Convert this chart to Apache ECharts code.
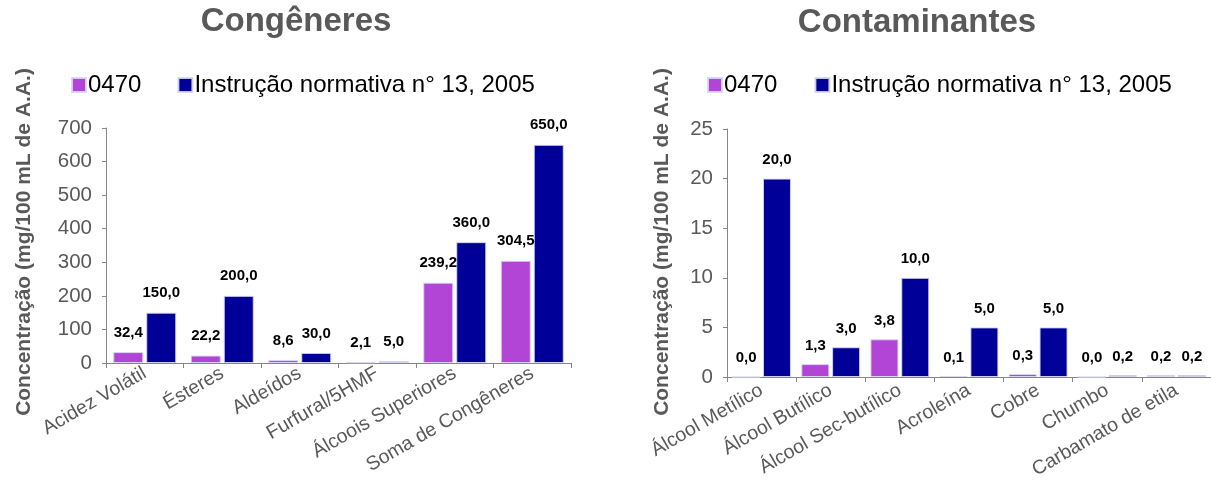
<!DOCTYPE html>
<html>
<head>
<meta charset="utf-8">
<script src="https://cdn.jsdelivr.net/npm/echarts@6/dist/echarts.min.js"></script>
<style>
  html, body { margin: 0; padding: 0; background: #fff; }
  #chart { width: 1211px; height: 488px; }
</style>
</head>
<body>
<div id="chart"></div>
<script>
// Congêneres panel
const congCategories = ['Acidez Volátil', 'Ésteres', 'Aldeídos', 'Furfural/5HMF', 'Álcoois Superiores', 'Soma de Congêneres'];
const congSample = [32.4, 22.2, 8.6, 2.1, 239.2, 304.5];
const congLimit = [150.0, 200.0, 30.0, 5.0, 360.0, 650.0];
const congTicks = [0, 100, 200, 300, 400, 500, 600, 700];

// Contaminantes panel
const contCategories = ['Álcool Metílico', 'Álcool Butílico', 'Álcool Sec-butílico', 'Acroleína', 'Cobre', 'Chumbo', 'Carbamato de etila'];
const contSample = [0.0, 1.3, 3.8, 0.1, 0.3, 0.0, 0.2];
const contLimit = [20.0, 3.0, 10.0, 5.0, 5.0, 0.2, 0.2];
const contTicks = [0, 5, 10, 15, 20, 25];

const seriesNames = ['0470', 'Instrução normativa n° 13, 2005'];
const panelTitles = ['Congêneres', 'Contaminantes'];
const yTitle = 'Concentração (mg/100 mL de A.A.)';

const FONT = '"Liberation Sans", Arial, sans-serif';
const NARROW = '"Liberation Sans Narrow", "Arial Narrow", "Liberation Sans", Arial, sans-serif';
const PURPLE = '#B245D6';
const NAVY = '#000099';
const GREY = '#595959';
const AXIS = '#868686';

const fmt = v => v.toFixed(1).replace('.', ',');

function valueLabel(dist) {
  return {
    show: true, position: 'top', distance: dist,
    formatter: p => fmt(p.value),
    fontFamily: NARROW, fontWeight: 'bold', fontSize: 15, color: '#000'
  };
}

function catAxis(idx, cats, margin) {
  return {
    type: 'category', gridIndex: idx, data: cats,
    axisLine: { lineStyle: { color: AXIS, width: 1 } },
    axisTick: { show: true, interval: 0, length: 5, lineStyle: { color: AXIS } },
    axisLabel: { interval: 0, rotate: 30, margin: margin, fontFamily: FONT, fontSize: 19.5, color: GREY }
  };
}

function valAxis(idx, ticks) {
  return {
    type: 'value', gridIndex: idx,
    min: ticks[0], max: ticks[ticks.length - 1], interval: ticks[1] - ticks[0],
    splitLine: { show: false },
    axisLine: { show: true, lineStyle: { color: AXIS, width: 1 } },
    axisTick: { show: true, length: 4, lineStyle: { color: AXIS } },
    axisLabel: { margin: 14, fontFamily: FONT, fontSize: 20.5, color: GREY }
  };
}

const barBorder = { borderColor: 'rgba(215,215,245,0.9)', borderWidth: 1 };

const option = {
  animation: false,
  backgroundColor: '#fff',
  textStyle: { fontFamily: FONT },
  grid: [
    { left: 106, top: 128, width: 465, height: 235 },
    { left: 727, top: 129, width: 486, height: 248 }
  ],
  legend: [
    {
      left: 66, top: 68, icon: 'rect', itemWidth: 14, itemHeight: 14, itemGap: 36,
      data: seriesNames,
      textStyle: { fontFamily: FONT, fontSize: 24, color: '#000', padding: [0, 0, 0, -3] }
    },
    {
      left: 702, top: 68, icon: 'rect', itemWidth: 14, itemHeight: 14, itemGap: 37,
      data: seriesNames,
      textStyle: { fontFamily: FONT, fontSize: 24, color: '#000', padding: [0, 0, 0, -3] }
    }
  ],
  xAxis: [catAxis(0, congCategories, 9), catAxis(1, contCategories, 12)],
  yAxis: [valAxis(0, congTicks), valAxis(1, contTicks)],
  series: [
    {
      name: seriesNames[0], type: 'bar', xAxisIndex: 0, yAxisIndex: 0,
      data: congSample, barWidth: 30, barGap: '10%',
      itemStyle: Object.assign({ color: PURPLE }, barBorder), label: valueLabel(12)
    },
    {
      name: seriesNames[1], type: 'bar', xAxisIndex: 0, yAxisIndex: 0,
      data: congLimit, barWidth: 30, barGap: '10%',
      itemStyle: Object.assign({ color: NAVY }, barBorder), label: valueLabel(12)
    },
    {
      name: seriesNames[0], type: 'bar', xAxisIndex: 1, yAxisIndex: 1,
      data: contSample, barWidth: 28, barGap: '10%',
      itemStyle: Object.assign({ color: PURPLE }, barBorder), label: valueLabel(11)
    },
    {
      name: seriesNames[1], type: 'bar', xAxisIndex: 1, yAxisIndex: 1,
      data: contLimit, barWidth: 28, barGap: '10%',
      itemStyle: Object.assign({ color: NAVY }, barBorder), label: valueLabel(11)
    }
  ],
  graphic: [
    {
      type: 'text', x: 296, y: 22,
      style: { text: panelTitles[0], fill: GREY, font: 'bold 33px ' + FONT, align: 'center', verticalAlign: 'middle' }
    },
    {
      type: 'text', x: 917, y: 23,
      style: { text: panelTitles[1], fill: GREY, font: 'bold 33px ' + FONT, align: 'center', verticalAlign: 'middle' }
    },
    {
      type: 'text', x: 24, y: 242, rotation: Math.PI / 2,
      style: { text: yTitle, fill: GREY, font: 'bold 21px ' + FONT, align: 'center', verticalAlign: 'middle' }
    },
    {
      type: 'text', x: 662, y: 242, rotation: Math.PI / 2,
      style: { text: yTitle, fill: GREY, font: 'bold 21px ' + FONT, align: 'center', verticalAlign: 'middle' }
    }
  ]
};

const chart = echarts.init(document.getElementById('chart'), null, { renderer: 'canvas' });
chart.setOption(option);
</script>
</body>
</html>
